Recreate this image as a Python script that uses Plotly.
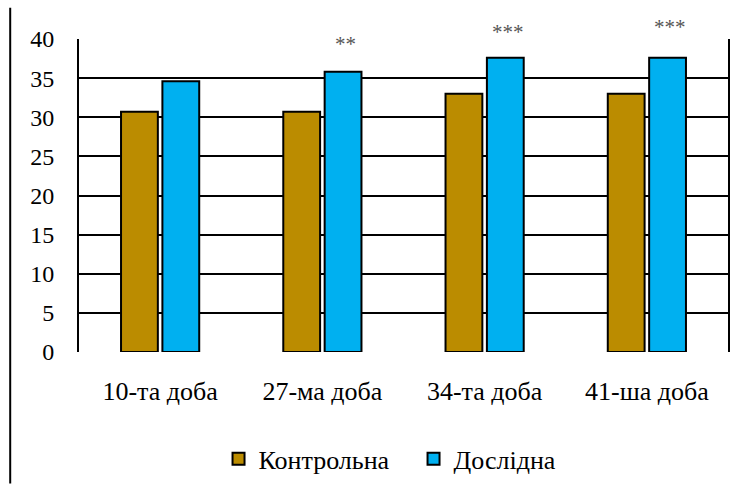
import plotly.graph_objects as go

categories = ["10-та доба", "27-ма доба", "34-та доба", "41-ша доба"]
control = [30.7, 30.7, 33.0, 33.0]
experimental = [34.6, 35.8, 37.6, 37.6]
significance = ["", "**", "***", "***"]
sig_y = [0, 39.3, 40.9, 41.5]
y_ticks = [0, 5, 10, 15, 20, 25, 30, 35, 40]
y_max = 40

FONT = '"Liberation Serif", "DejaVu Serif", serif'

fig = go.Figure()
fig.add_trace(go.Bar(
    name="Контрольна", x=categories, y=control,
    marker=dict(color="#BB8C00", line=dict(color="black", width=2)),
))
fig.add_trace(go.Bar(
    name="Дослідна", x=categories, y=experimental,
    marker=dict(color="#00B0F0", line=dict(color="black", width=2)),
))

for cat, s, yy in zip(categories, significance, sig_y):
    if s:
        fig.add_annotation(
            x=cat, y=yy / y_max, xref="x", yref="paper", text=s, showarrow=False,
            xshift=23, yanchor="middle",
            font=dict(family=FONT, size=21, color="#555555"),
        )

# left frame line of the page
fig.add_shape(type="line", xref="paper", yref="paper",
              x0=-0.106, x1=-0.106, y0=-0.42, y1=1.1,
              line=dict(color="black", width=2))

fig.update_layout(
    width=751, height=484,
    margin=dict(l=79, r=23, t=39, b=132, autoexpand=False),
    paper_bgcolor="white", plot_bgcolor="white",
    barmode="group", bargap=0.49, bargroupgap=0.11,
    font=dict(family=FONT, size=24, color="black"),
    showlegend=True,
    legend=dict(
        orientation="h", xref="paper", x=0.215, xanchor="left",
        yref="container", y=0.052, yanchor="middle",
        font=dict(family=FONT, size=26, color="black"),
        entrywidth=150, entrywidthmode="pixels",
        itemwidth=30,
    ),
    xaxis=dict(
        showline=False, showgrid=False, ticks="",
        tickfont=dict(family=FONT, size=26, color="black"),
        ticklabelstandoff=21,
        automargin=False,
    ),
    yaxis=dict(
        range=[0, y_max], tickvals=y_ticks,
        showgrid=True, gridcolor="black", gridwidth=2,
        zeroline=False,
        showline=True, mirror=True, linecolor="black", linewidth=2,
        ticks="", ticklabelstandoff=18,
        tickfont=dict(family=FONT, size=24, color="black"),
        automargin=False,
    ),
)

fig.write_html("out.html")
